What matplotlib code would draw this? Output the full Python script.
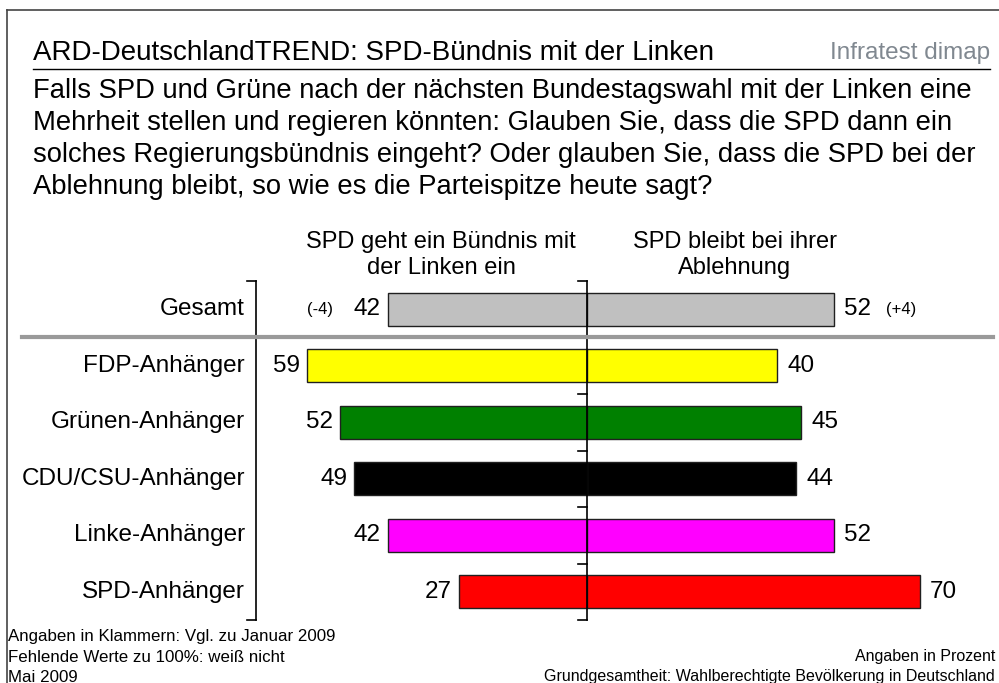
import matplotlib
matplotlib.use("Agg")
import matplotlib.pyplot as plt
from matplotlib.lines import Line2D

# =====================================
# Data
# =====================================

groups = ["Gesamt", "FDP-Anhänger", "Grünen-Anhänger", "CDU/CSU-Anhänger",
          "Linke-Anhänger", "SPD-Anhänger"]
buendnis = [42, 59, 52, 49, 42, 27]
ablehnung = [52, 40, 45, 44, 52, 70]
colors = ["#c0c0c0", "#ffff00", "#008000", "#000000", "#ff00ff", "#ff0000"]
change_left = "(-4)"
change_right = "(+4)"

title = "ARD-DeutschlandTREND: SPD-Bündnis mit der Linken"
question = ("Falls SPD und Grüne nach der nächsten Bundestagswahl mit der Linken eine\n"
            "Mehrheit stellen und regieren könnten: Glauben Sie, dass die SPD dann ein\n"
            "solches Regierungsbündnis eingeht? Oder glauben Sie, dass die SPD bei der\n"
            "Ablehnung bleibt, so wie es die Parteispitze heute sagt?")
head_left = "SPD geht ein Bündnis mit\nder Linken ein"
head_right = "SPD bleibt bei ihrer\nAblehnung"
notes_left = ["Angaben in Klammern: Vgl. zu Januar 2009",
              "Fehlende Werte zu 100%: weiß nicht",
              "Mai 2009"]
notes_right = ["Angaben in Prozent",
               "Grundgesamtheit: Wahlberechtigte Bevölkerung in Deutschland"]

plt.rcParams["font.family"] = ["Liberation Sans", "DejaVu Sans"]

W, H = 999, 683
fig = plt.figure(figsize=(W / 100, H / 100), dpi=100)


def fx(px):
    return px / W


def fy(py):
    return 1 - py / H


# =====================================
# Frame and header
# =====================================

fig.add_artist(Line2D([fx(7), fx(7)], [fy(10), fy(683)], color="#444444", lw=1.2))
fig.add_artist(Line2D([fx(7), fx(999)], [fy(10), fy(10)], color="#444444", lw=1.2))

fig.text(fx(33), fy(53), title, fontsize=20, va="center", ha="left")
fig.text(fx(990), fy(53), "Infratest dimap", fontsize=17.5,
         color="#808890", va="center", ha="right")
fig.add_artist(Line2D([fx(33), fx(990)], [fy(69), fy(69)], color="black", lw=1))

fig.text(fx(33), fy(139.5), question, fontsize=19.7, va="center", ha="left",
         linespacing=1.30)

# =====================================
# Bars
# =====================================

scale = 4.75            # pixels per percent
x0 = 587                # centre line in pixels
ax_left, ax_right = 256, 990
top, bottom = 281, 620
ax = fig.add_axes([fx(ax_left), fy(bottom), fx(ax_right - ax_left), (bottom - top) / H])
ax.set_xlim((ax_left - x0) / scale, (ax_right - x0) / scale)
ax.set_ylim(len(groups) - 0.5, -0.5)
ax.axis("off")

ypos = list(range(len(groups)))
ax.barh(ypos, [-v for v in buendnis], height=0.59, color=colors,
        edgecolor="#202020", linewidth=1)
ax.barh(ypos, ablehnung, height=0.59, color=colors,
        edgecolor="#202020", linewidth=1)

# value labels
for i, (l, r) in enumerate(zip(buendnis, ablehnung)):
    ax.text(-l - 1.5, i, str(l), ha="right", va="center", fontsize=17.5)
    ax.text(r + 2.2, i, str(r), ha="left", va="center", fontsize=17.5)
    ax.text((ax_left - 11 - x0) / scale, i, groups[i], ha="right", va="center",
            fontsize=17.5)

ax.text(-buendnis[0] - 11.5, 0, change_left, ha="right", va="center", fontsize=12)
ax.text(ablehnung[0] + 10.9, 0, change_right, ha="left", va="center", fontsize=12)

# centre axis with ticks
xl = ax.get_xlim()[0]
tick = 9 / scale
ax.plot([0, 0], [-0.5, len(groups) - 0.5], color="black", lw=1.2, clip_on=False)
for b in [-0.5] + [k + 0.5 for k in range(1, len(groups))]:
    ax.plot([-tick, 0], [b, b], color="black", lw=1.2, clip_on=False)
# left axis
ax.plot([xl, xl], [-0.5, len(groups) - 0.5], color="black", lw=1.2, clip_on=False)
ax.plot([xl - tick, xl], [-0.5, -0.5], color="black", lw=1.2, clip_on=False)
ax.plot([xl - tick, xl], [len(groups) - 0.5, len(groups) - 0.5], color="black", lw=1.2,
        clip_on=False)

# separator below Gesamt
fig.add_artist(Line2D([fx(22), fx(993)], [fy(337), fy(337)], color="#9a9a9a", lw=3))

# column headings
fig.text(fx(441), fy(255), head_left, ha="center", va="center", fontsize=17,
         linespacing=1.24)
fig.text(fx(735), fy(255), head_right, ha="center", va="center", fontsize=17,
         linespacing=1.24)

# =====================================
# Footnotes
# =====================================

for k, t in enumerate(notes_left):
    fig.text(fx(8), fy(637 + 20 * k), t, ha="left", va="center", fontsize=12.2)
for k, t in enumerate(notes_right):
    fig.text(fx(995), fy(657 + 20 * k), t, ha="right", va="center", fontsize=11.5)

fig.savefig("out.png", dpi=100)
